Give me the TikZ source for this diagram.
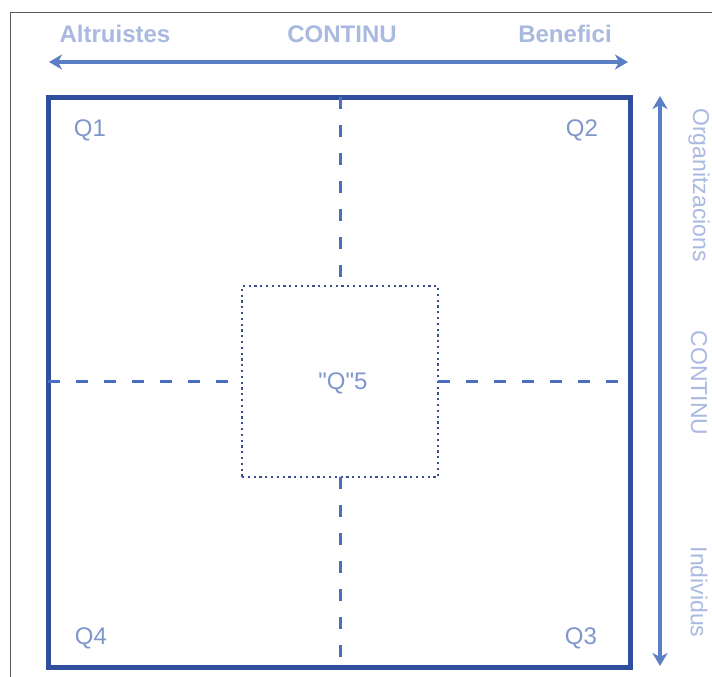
\documentclass[tikz,border=0pt]{standalone}
\usepackage{fontspec}
\setmainfont{Liberation Sans}
\newfontfamily\plainfont{Liberation Sans}
\usetikzlibrary{arrows.meta}
\definecolor{framecol}{HTML}{2F4F9E}
\definecolor{dashcol}{HTML}{4A6FC0}
\definecolor{arrowcol}{HTML}{5B7FC4}
\definecolor{labcol}{HTML}{A9B9E0}
\definecolor{qcol}{HTML}{7F97CC}
\definecolor{dotcol}{HTML}{3A4F90}
\tikzset{
  mainsq/.style={draw=framecol, line width=5pt, minimum width=582pt, minimum height=570pt, outer sep=0pt, inner sep=0pt},
  innersq/.style={draw=dotcol, line width=2pt, dash pattern=on 2.2pt off 3.6pt, minimum width=196pt, minimum height=191pt, outer sep=0pt, inner sep=0pt},
  divider/.style={draw=dashcol, line width=3pt, dash pattern=on 12pt off 16pt},
  axis/.style={draw=arrowcol, line width=3.2pt, {Stealth[length=13pt,width=15pt,inset=4pt]}-{Stealth[length=13pt,width=15pt,inset=4pt]}},
  toplab/.style={text=labcol, font=\fontsize{24}{28}\selectfont\bfseries, inner sep=0pt},
  sidelab/.style={text=labcol, font=\fontsize{23}{27}\selectfont, inner sep=0pt, rotate=-90},
  qlab/.style={text=qcol, font=\plainfont\fontsize{24}{28}\selectfont, inner sep=0pt}
}
\begin{document}
\begin{tikzpicture}[x=1pt,y=-1pt]
\useasboundingbox (0,0) rectangle (712,677);
\fill[white] (0,0) rectangle (712,677);
% outer thin frame
\draw[gray!70!black, line width=1pt] (10,677) -- (10,13) -- (712,13);
% top axis
\node[toplab] (altr) at (115,34) {Altruistes};
\node[toplab] (cont1) at (342,34) {CONTINU};
\node[toplab] (bene) at (565,34) {Benefici};
\coordinate (al) at (49,62);
\coordinate (ar) at (628,62);
\draw[axis] (al) -- (ar);
% right axis
\coordinate (at) at (660,96);
\coordinate (ab) at (660,666);
\draw[axis] (at) -- (ab);
\node[sidelab] (org) at (699,185) {Organitzacions};
\node[sidelab] (cont2) at (699,383) {CONTINU};
\node[sidelab] (indi) at (699,592) {Individus};
% main square and inner box
\node[mainsq] (sq) at (339,382) {};
\node[innersq] (in) at (340,381.5) {};
% dividers
\draw[divider] (sq.north -| in.north) -- (in.north);
\draw[divider] (in.south) -- (sq.south -| in.south);
\draw[divider] (sq.west |- in.west) -- (in.west);
\draw[divider] (in.east) -- (sq.east |- in.east);
% labels
\node[qlab] (q1) at (90,130) {Q1};
\node[qlab] (q2) at (582,130) {Q2};
\node[qlab] (q4) at (91,638) {Q4};
\node[qlab] (q3) at (581,638) {Q3};
\node[qlab] (q5) at (343,383) {"Q"5};
\end{tikzpicture}
\end{document}
